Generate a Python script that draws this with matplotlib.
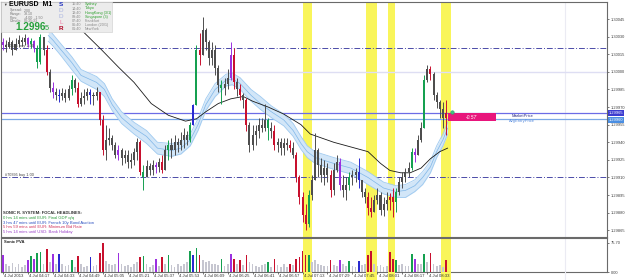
import numpy as np
import matplotlib
matplotlib.use("Agg")
import matplotlib.pyplot as plt
from matplotlib.patches import Rectangle
from matplotlib.transforms import blended_transform_factory

plt.rcParams['font.family'] = ['Liberation Sans', 'DejaVu Sans']

# ---------- data ----------
# EURUSD, 4 Jul 2013, one bar every 2 minutes, time = minutes after 04:01
minutes = np.arange(0, 286, 2)
open0 = 1.30025
highs = [1.30029, 1.30027, 1.30030, 1.30027, 1.30029, 1.30031, 1.30030, 1.30032, 1.30030, 1.30029,
         1.30027, 1.30023, 1.30032, 1.30029, 1.30023, 1.30002, 1.29991, 1.29986, 1.29985, 1.29986,
         1.29985, 1.29989, 1.29997, 1.29995, 1.29991, 1.29983, 1.29985, 1.29986, 1.29985, 1.29983,
         1.29987, 1.29983, 1.29963, 1.29955, 1.29952, 1.29946, 1.29940, 1.29938, 1.29935, 1.29933,
         1.29933, 1.29931, 1.29935, 1.29944, 1.29942, 1.29921, 1.29925, 1.29922, 1.29925, 1.29923,
         1.29927, 1.29929, 1.29938, 1.29942, 1.29944, 1.29946, 1.29944, 1.29949, 1.29952, 1.29950,
         1.29957, 1.29973, 1.30023, 1.30033, 1.30047, 1.30037, 1.30027, 1.30025, 1.30023, 1.30006,
         1.29993, 1.29995, 1.30002, 1.30025, 1.30020, 1.29995, 1.29990, 1.29982, 1.29978, 1.29957,
         1.29955, 1.29955, 1.29961, 1.29961, 1.29973, 1.29961, 1.29957, 1.29955, 1.29944, 1.29944,
         1.29944, 1.29944, 1.29942, 1.29940, 1.29932, 1.29912, 1.29898, 1.29887, 1.29899, 1.29912,
         1.29948, 1.29935, 1.29927, 1.29925, 1.29922, 1.29916, 1.29922, 1.29929, 1.29927, 1.29912,
         1.29910, 1.29915, 1.29916, 1.29918, 1.29927, 1.29908, 1.29901, 1.29898, 1.29893, 1.29895,
         1.29901, 1.29898, 1.29893, 1.29898, 1.29897, 1.29901, 1.29901, 1.29910, 1.29915, 1.29918,
         1.29923, 1.29935, 1.29935, 1.29946, 1.29957, 1.29997, 1.30006, 1.30005, 1.30000, 1.29983,
         1.29976, 1.29974, 1.29976]
lows = [1.30019, 1.30017, 1.30020, 1.30014, 1.30019, 1.30021, 1.30022, 1.30023, 1.30021, 1.30020,
        1.30017, 1.30003, 1.30007, 1.30014, 1.29997, 1.29983, 1.29978, 1.29976, 1.29974, 1.29976,
        1.29974, 1.29976, 1.29980, 1.29983, 1.29970, 1.29971, 1.29973, 1.29976, 1.29973, 1.29972,
        1.29976, 1.29955, 1.29929, 1.29925, 1.29938, 1.29933, 1.29927, 1.29925, 1.29921, 1.29922,
        1.29918, 1.29918, 1.29921, 1.29925, 1.29912, 1.29899, 1.29910, 1.29912, 1.29912, 1.29914,
        1.29915, 1.29914, 1.29916, 1.29925, 1.29927, 1.29929, 1.29932, 1.29933, 1.29935, 1.29938,
        1.29940, 1.29955, 1.29972, 1.30006, 1.30023, 1.30019, 1.30006, 1.30006, 1.29997, 1.29983,
        1.29973, 1.29980, 1.29985, 1.29993, 1.29985, 1.29979, 1.29976, 1.29969, 1.29950, 1.29932,
        1.29933, 1.29938, 1.29944, 1.29949, 1.29950, 1.29942, 1.29944, 1.29933, 1.29932, 1.29929,
        1.29929, 1.29933, 1.29932, 1.29927, 1.29906, 1.29887, 1.29872, 1.29865, 1.29868, 1.29891,
        1.29912, 1.29910, 1.29906, 1.29904, 1.29906, 1.29893, 1.29895, 1.29915, 1.29899, 1.29893,
        1.29891, 1.29899, 1.29904, 1.29906, 1.29901, 1.29893, 1.29888, 1.29878, 1.29876, 1.29881,
        1.29887, 1.29878, 1.29877, 1.29882, 1.29882, 1.29876, 1.29881, 1.29895, 1.29901, 1.29906,
        1.29910, 1.29916, 1.29923, 1.29929, 1.29940, 1.29955, 1.29991, 1.29993, 1.29976, 1.29969,
        1.29961, 1.29952, 1.29946]
closes = [1.30023, 1.30021, 1.30025, 1.30019, 1.30024, 1.30027, 1.30025, 1.30029, 1.30024, 1.30026,
          1.30020, 1.30008, 1.30030, 1.30019, 1.30000, 1.29986, 1.29983, 1.29980, 1.29979, 1.29982,
          1.29978, 1.29985, 1.29993, 1.29986, 1.29973, 1.29978, 1.29979, 1.29983, 1.29980, 1.29979,
          1.29983, 1.29959, 1.29933, 1.29942, 1.29944, 1.29938, 1.29929, 1.29933, 1.29927, 1.29929,
          1.29923, 1.29925, 1.29932, 1.29940, 1.29915, 1.29910, 1.29920, 1.29916, 1.29921, 1.29919,
          1.29923, 1.29916, 1.29933, 1.29938, 1.29933, 1.29940, 1.29938, 1.29942, 1.29946, 1.29942,
          1.29955, 1.29972, 1.30019, 1.30014, 1.30036, 1.30025, 1.30012, 1.30019, 1.30003, 1.29989,
          1.29986, 1.29990, 1.29995, 1.30014, 1.29991, 1.29985, 1.29980, 1.29976, 1.29955, 1.29938,
          1.29946, 1.29950, 1.29955, 1.29952, 1.29959, 1.29952, 1.29950, 1.29938, 1.29940, 1.29935,
          1.29939, 1.29938, 1.29935, 1.29929, 1.29910, 1.29893, 1.29878, 1.29870, 1.29895, 1.29908,
          1.29933, 1.29921, 1.29912, 1.29918, 1.29912, 1.29899, 1.29916, 1.29923, 1.29904, 1.29899,
          1.29904, 1.29910, 1.29912, 1.29915, 1.29908, 1.29898, 1.29893, 1.29884, 1.29881, 1.29891,
          1.29895, 1.29882, 1.29887, 1.29891, 1.29893, 1.29889, 1.29898, 1.29906, 1.29910, 1.29915,
          1.29918, 1.29932, 1.29929, 1.29942, 1.29952, 1.29993, 1.30002, 1.29998, 1.29980, 1.29974,
          1.29968, 1.29961, 1.29965]
volumes = [43, 20, 16, 24, 14, 20, 12, 18, 30, 42,
           35, 50, 52, 22, 60, 25, 48, 22, 48, 20,
           15, 18, 30, 14, 42, 20, 12, 16, 40, 15,
           18, 50, 75.7, 28, 20, 18, 22, 50, 22, 15,
           18, 12, 20, 25, 38, 42, 20, 14, 18, 35,
           15, 38, 20, 45, 18, 14, 20, 16, 22, 25,
           55, 45, 63, 45, 30, 25, 28, 20, 22, 18,
           35, 15, 20, 48, 35, 20, 30, 18, 45, 25,
           20, 16, 14, 18, 22, 25, 14, 35, 18, 12,
           20, 14, 22, 18, 35, 38, 55, 45, 43, 25,
           30, 20, 18, 15, 16, 30, 18, 15, 30, 20,
           16, 28, 16, 14, 28, 18, 20, 43, 55, 20,
           15, 18, 14, 16, 52, 35, 30, 18, 20, 15,
           16, 48, 35, 20, 22, 48, 25, 50, 20, 15,
           18, 14, 30]

# PVA colouring (bar indices)
pva_red = [14, 24, 31, 32, 44, 51, 63, 74, 76, 78, 87, 92, 94, 95, 96, 97, 105, 117, 118, 124, 125, 137, 142]
pva_green = [9, 11, 12, 22, 45, 53, 60, 62, 70, 85, 98, 111, 126, 131, 135]
pva_blue = [18, 28, 61, 114]
pva_purple = [0, 8, 10, 16, 37, 49, 73, 108, 132]

# slow EMA (black)
ema_t = [50, 63, 74, 84, 95, 106, 117, 124, 130, 138, 146, 154, 160, 170, 180, 191, 197, 212,
         223, 234, 242, 248, 255, 261, 268, 274, 280, 285]
ema_slow = [1.30036, 1.30019, 1.30004, 1.29991, 1.29973, 1.29963, 1.29958, 1.29960, 1.29966,
            1.29973, 1.29977, 1.29979, 1.29975, 1.29970, 1.29964, 1.29955, 1.29947, 1.29940,
            1.29936, 1.29932, 1.29922, 1.29916, 1.29914, 1.29914, 1.29918, 1.29926, 1.29932, 1.29935]

# dragon band (EMA of highs / closes / lows)
dragon_t = [29, 32, 37, 44, 50, 60, 65, 70, 76, 84, 92, 99, 108, 114, 120, 125, 130, 136, 143, 147,
            152, 159, 165, 172, 180, 186, 191, 195, 200, 212, 223, 234, 244, 252, 258, 264, 269,
            274, 278, 282, 285]
dragon_hi = [1.30037, 1.30032, 1.30024, 1.30013, 1.30002, 1.29996, 1.29990, 1.29977, 1.29966, 1.29957,
             1.29950, 1.29940, 1.29939, 1.29940, 1.29947, 1.29960, 1.29977, 1.29990, 1.29998, 1.29999,
             1.29995, 1.29985, 1.29979, 1.29971, 1.29964, 1.29956, 1.29945, 1.29937, 1.29932, 1.29927,
             1.29923, 1.29915, 1.29906, 1.29903, 1.29904, 1.29908, 1.29915, 1.29924, 1.29937, 1.29947,
             1.29957]
dragon_mid = [1.30031, 1.30027, 1.30019, 1.30008, 1.29997, 1.29991, 1.29985, 1.29972, 1.29961, 1.29952,
              1.29945, 1.29935, 1.29933, 1.29935, 1.29942, 1.29955, 1.29972, 1.29985, 1.29993, 1.29994,
              1.29990, 1.29980, 1.29973, 1.29966, 1.29959, 1.29950, 1.29939, 1.29932, 1.29927, 1.29922,
              1.29918, 1.29910, 1.29901, 1.29898, 1.29899, 1.29903, 1.29910, 1.29919, 1.29932, 1.29942,
              1.29952]
dragon_lo = [1.30026, 1.30022, 1.30014, 1.30002, 1.29992, 1.29985, 1.29979, 1.29967, 1.29956, 1.29947,
             1.29939, 1.29930, 1.29928, 1.29930, 1.29937, 1.29950, 1.29967, 1.29979, 1.29988, 1.29989,
             1.29985, 1.29975, 1.29968, 1.29961, 1.29954, 1.29945, 1.29934, 1.29927, 1.29922, 1.29917,
             1.29913, 1.29904, 1.29896, 1.29893, 1.29893, 1.29898, 1.29904, 1.29914, 1.29927, 1.29937,
             1.29947]

order_levels = [1.30020, 1.29910]
order_labels = ["#70685 buy 1.00", "#70395 buy 1.00"]
round_level = 1.30000
market_price = 1.29965
avg_entry = 1.29960
pl_text = "-0.57"

news_spans = [(192, 198), (233, 239.5), (246.5, 251), (281, 287)]
price_ticks = [1.30045, 1.30030, 1.30015, 1.30000, 1.29985, 1.29970, 1.29955, 1.29940,
               1.29925, 1.29910, 1.29895, 1.29880, 1.29865]
time_ticks = list(range(0, 273, 16))
time_labels = ["4 Jul 2013", "4 Jul 04:17", "4 Jul 04:33", "4 Jul 04:49", "4 Jul 05:05",
               "4 Jul 05:21", "4 Jul 05:37", "4 Jul 05:53", "4 Jul 06:09", "4 Jul 06:25",
               "4 Jul 06:41", "4 Jul 06:57", "4 Jul 07:13", "4 Jul 07:29", "4 Jul 07:45",
               "4 Jul 08:01", "4 Jul 08:17", "4 Jul 08:33"]

headlines = ["SONIC R. SYSTEM: FOCAL HEADLINES:",
             "0 hrs 14 mins until EUR: Final GDP q/q",
             "3 hrs 47 mins until EUR: French 10y Bond Auction",
             "5 hrs 59 mins until EUR: Minimum Bid Rate",
             "5 hrs 14 mins until USD: Bank Holiday"]
headline_colors = ['#333333', '#2a9a3a', '#2a4fc0', '#d0305a', '#9a40c8']

session_times = ["15:40", "14:40", "13:40", "09:40", "07:40", "06:40", "01:40"]
session_names = ["Sydney", "Tokyo", "HongKong (3/1)", "Singapore (3)", "Frankfurt",
                 "London (20/1)", "NewYork"]
session_open = [True, True, True, True, False, False, False]

# ---------- figure ----------
W, H = 625, 280
fig = plt.figure(figsize=(W / 100, H / 100), dpi=100)
fig.patch.set_facecolor('white')


def px_rect(x0, y0, x1, y1):
    return [x0 / W, 1 - y1 / H, (x1 - x0) / W, (y1 - y0) / H]


xlim = (-1.3, 387.2)
ax = fig.add_axes(px_rect(1, 2, 607, 237))
axv = fig.add_axes(px_rect(1, 238, 607, 272), sharex=ax)
axt = fig.add_axes(px_rect(1, 272, 607, 280), sharex=ax)

col_map = {'n': '#4e4e4e', 'r': '#c8102e', 'g': '#15a050', 'b': '#2a2ad0', 'p': '#9b30e0'}
codes = ['n'] * len(minutes)
for lst, k in [(pva_red, 'r'), (pva_green, 'g'), (pva_blue, 'b'), (pva_purple, 'p')]:
    for i in lst:
        codes[i] = k
cand_cols = [col_map[k] for k in codes]
vol_cols = ['#c6c6d0' if k == 'n' else col_map[k] for k in codes]

o = np.array([open0] + closes[:-1])
c = np.array(closes)
h = np.array(highs)
l = np.array(lows)

for a in (ax, axv, axt):
    for t0, t1 in news_spans:
        a.axvspan(t0, t1, color='#f9f55a', lw=0, zorder=0.5)
    a.axvline(360, color='#ebebf3', lw=0.8, zorder=0.6)

# dragon + slow ema
ax.fill_between(dragon_t, dragon_lo, dragon_hi, color='#d2e6f8', lw=0, zorder=2)
ax.plot(dragon_t, dragon_hi, color='#9fcaf0', lw=0.6, zorder=2.5)
ax.plot(dragon_t, dragon_lo, color='#9fcaf0', lw=0.6, zorder=2.5)
ax.plot(dragon_t, dragon_mid, color='#7fb6e8', lw=0.5, zorder=2.5)
ax.plot(ema_t, ema_slow, color='#1a1a1a', lw=0.6, zorder=3)

# horizontal levels
ax.axhline(round_level, color='#dedef3', lw=1.0, zorder=1)
for lvl, lab in zip(order_levels, order_labels):
    ax.axhline(lvl, color='#4b4ba8', lw=0.7, ls=(0, (6, 2, 1, 2)), zorder=1.5)
    ax.text(1.5, lvl, lab, fontsize=2.8, color='#404040', va='bottom', ha='left', zorder=6)
ax.axhline(market_price, color='#6c6ce6', lw=0.9, zorder=1.6)
ax.axhline(avg_entry, color='#7aa8e6', lw=0.9, zorder=1.6)

# candles
ax.vlines(minutes, np.minimum(l, np.minimum(o, c)), np.maximum(h, np.maximum(o, c)),
          colors=cand_cols, lw=0.7, zorder=4)
body = np.where(c == o, 0.000008, c - o)
ax.bar(minutes, body, bottom=o, width=1.3, color=cand_cols, lw=0, zorder=4)

# P/L box and price labels
t_last = minutes[-1]
ax.add_patch(Rectangle((t_last + 1, avg_entry - 0.00002), 31, market_price - avg_entry + 0.00002,
                       color='#e8157c', lw=0, zorder=5))
ax.text(t_last + 16.5, (market_price + avg_entry - 0.00002) / 2, pl_text, color='white',
        fontsize=3.6, style='italic', ha='center', va='center', zorder=6)
ax.plot([t_last + 4], [market_price + 0.00001], 'o', ms=2.6, color='#3cc080', mec='#2a9a60',
        mew=0.3, zorder=6)
ax.text(333, market_price - 0.000005, "MarketPrice", fontsize=3.0, color='#2a2a80',
        ha='center', va='top', zorder=6)
ax.text(333, avg_entry - 0.000005, "AvgEntryPrice", fontsize=3.0, color='#5a8ee0',
        ha='center', va='top', zorder=6)

ax.set_xlim(*xlim)
ax.set_ylim(1.298593, 1.300595)
ax.yaxis.tick_right()
ax.set_yticks(price_ticks)
ax.set_yticklabels(["%.5f" % v for v in price_ticks])
ax.tick_params(axis='y', labelsize=2.9, length=1.5, width=0.5, pad=1.0, colors='#404040')
ax.tick_params(axis='x', bottom=False, labelbottom=False)
tr = blended_transform_factory(ax.transAxes, ax.transData)
ax.text(1.003, market_price, "%.5f" % market_price, transform=tr, fontsize=2.9, color='white',
        va='center', ha='left', zorder=7,
        bbox=dict(facecolor='#3c3cd0', edgecolor='none', pad=0.5), clip_on=False)
ax.text(1.003, avg_entry - 0.00001, "%.5f" % avg_entry, transform=tr, fontsize=2.9, color='white',
        va='center', ha='left', zorder=7,
        bbox=dict(facecolor='#4a8ee2', edgecolor='none', pad=0.5), clip_on=False)

# volume panel
axv.bar(minutes, volumes, width=1.1, color=vol_cols, lw=0, zorder=3)
axv.set_ylim(0, 88.3)
axv.yaxis.tick_right()
axv.set_yticks([0, 75.7])
axv.set_yticklabels(["0.00", "75.70"])
axv.tick_params(axis='y', labelsize=2.9, length=1.5, width=0.5, pad=1.0, colors='#404040')
axv.tick_params(axis='x', bottom=False, labelbottom=False)
axv.text(0.005, 0.93, "Sonic PVA", transform=axv.transAxes, fontsize=3.0, color='#202020',
         weight='bold', va='top', ha='left')

for a in (ax, axv):
    for s in a.spines.values():
        s.set_color('#6a6a6a')
        s.set_linewidth(0.8)

# time axis strip
axt.set_ylim(0, 1)
axt.axis('off')
axt.vlines(time_ticks, 0.8, 1.0, color='#404040', lw=0.5)
for tt, lab in zip(time_ticks, time_labels):
    axt.text(tt + 0.8, 0.5, lab, fontsize=3.1, color='#303030', ha='left', va='center')
axt.set_xlim(*xlim)

# overlay: info panel + headlines
ov = fig.add_axes([0, 0, 1, 1])
ov.set_xlim(0, W)
ov.set_ylim(H, 0)
ov.axis('off')
ov.patch.set_visible(False)
ov.add_patch(Rectangle((1, 2), 111, 30, facecolor='#ececec', edgecolor='#d4d4d4', lw=0.5))
ov.text(3, 4.8, "\u25bc", fontsize=2.6, color='#404040', va='center', ha='left')
ov.text(9, 5, "EURUSD  M1", fontsize=5.0, weight='bold', color='black', va='center', ha='left')
info_rows = [("Spread:", "2.00"), ("Range:", "33.10"), ("Pips:", "-4.00  -1.50"),
             ("Candle:", "00:35:33")]
for k, (lab, val) in enumerate(info_rows):
    ov.text(10, 10.5 + 3.6 * k, lab, fontsize=2.6, color='#777777', va='center', ha='left')
    ov.text(24, 10.5 + 3.6 * k, val, fontsize=2.6, color='#777777', va='center', ha='left')
ov.text(15, 27.5, "1.2996", fontsize=7.2, weight='bold', color='#27a03c', va='center', ha='left')
ov.text(44.5, 28.2, "5", fontsize=5.2, color='#27a03c', va='center', ha='left')
letters = [("S", '#2030c0', 'bold'), ("D", '#aab4e0', 'normal'), ("D", '#aab4e0', 'normal'),
           ("L", '#f080a8', 'normal'), ("R", '#b00020', 'bold')]
for k, (ch, cc, wt) in enumerate(letters):
    ov.text(61, 5 + 6 * k, ch, fontsize=4.6, color=cc, weight=wt, va='center', ha='center')
for k in range(len(session_times)):
    yy = 4.3 + 4.2 * k
    sc = '#2a9f2a' if session_open[k] else '#8a8a8a'
    ov.text(72, yy, session_times[k], fontsize=2.7, color='#8a8a8a', va='center', ha='left')
    ov.text(85, yy, session_names[k], fontsize=2.7, color=sc, va='center', ha='left')

for k, (txt, cc) in enumerate(zip(headlines, headline_colors)):
    ov.text(3, 213.5 + 4.6 * k, txt, fontsize=3.0, color=cc, va='center', ha='left',
            weight='bold' if k == 0 else 'normal')

fig.savefig("out.png", dpi=100)
